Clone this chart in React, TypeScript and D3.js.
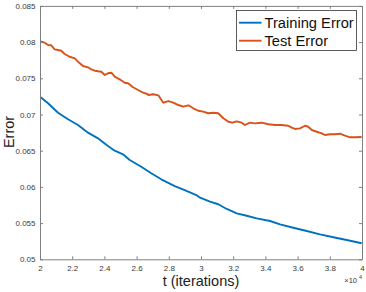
import React, { useRef, useEffect } from 'react';
import { select, scaleLinear, line, axisBottom, axisLeft, axisTop, axisRight } from 'd3';

const trainIters = [20040, 20500, 21120, 21740, 22360, 22980, 23600, 24220, 24640, 25160, 25570, 26290, 26910, 27530, 28370, 28990, 29710, 29940, 30560, 31070, 31600, 32220, 32840, 33460, 34290, 34910, 35730, 36570, 37390, 38220, 39050, 39980];
const trainErr = [0.07238, 0.07155, 0.07025, 0.06934, 0.06855, 0.06749, 0.06671, 0.06565, 0.065, 0.0645, 0.06372, 0.06279, 0.06188, 0.06105, 0.06012, 0.05957, 0.05888, 0.05851, 0.05796, 0.0576, 0.05695, 0.05635, 0.05602, 0.05566, 0.05529, 0.05483, 0.05436, 0.05391, 0.05345, 0.05304, 0.05267, 0.05221];

const testIters = [20040, 20290, 20500, 20700, 20910, 21120, 21320, 21530, 21840, 22160, 22360, 22670, 22980, 23190, 23400, 23600, 23810, 24020, 24220, 24430, 24640, 24950, 25260, 25470, 25780, 26090, 26400, 26660, 26730, 27040, 27350, 27660, 27970, 28280, 28590, 28900, 29210, 29520, 29830, 30140, 30450, 30760, 31070, 31390, 31700, 31940, 32220, 32530, 32730, 33040, 33350, 33770, 34180, 34600, 35010, 35420, 35630, 35840, 36150, 36460, 36660, 36880, 37190, 37500, 37700, 38010, 38320, 38630, 38940, 39260, 39570, 39980];
const testErr = [0.0801, 0.07992, 0.0796, 0.07956, 0.079, 0.07891, 0.07881, 0.07836, 0.07798, 0.07776, 0.07729, 0.0767, 0.07652, 0.07624, 0.07605, 0.07597, 0.07591, 0.07546, 0.07569, 0.07577, 0.07522, 0.07486, 0.07439, 0.07431, 0.07376, 0.07338, 0.07301, 0.07283, 0.07269, 0.07279, 0.07265, 0.07163, 0.07186, 0.07163, 0.07131, 0.07108, 0.07127, 0.07086, 0.07052, 0.07039, 0.07017, 0.07025, 0.07017, 0.06948, 0.069, 0.06887, 0.06906, 0.06887, 0.06855, 0.06887, 0.06878, 0.06887, 0.06865, 0.06855, 0.06855, 0.06845, 0.06818, 0.068, 0.06809, 0.06845, 0.06831, 0.06786, 0.06762, 0.0674, 0.06717, 0.06727, 0.06727, 0.06735, 0.06707, 0.06685, 0.06685, 0.06689];

const xTicks = [20000, 22000, 24000, 26000, 28000, 30000, 32000, 34000, 36000, 38000, 40000];
const yTicks = [0.05, 0.055, 0.06, 0.065, 0.07, 0.075, 0.08, 0.085];
const seriesNames = ['Training Error', 'Test Error'];
const seriesColors = ['#0072BD', '#D95319'];

const W = 366;
const H = 292;
const FONT = '"Liberation Sans", Arial, Helvetica, sans-serif';

export default function App() {
  const gRef = useRef<SVGGElement>(null);

  const x = scaleLinear().domain([20000, 40000]).range([40, 362]);
  const y = scaleLinear().domain([0.05, 0.085]).range([259.3, 5.9]);

  const mk = (its: number[], errs: number[]) =>
    line<number>()
      .x((d) => x(d))
      .y((d, i) => y(errs[i]))(its) || '';

  useEffect(() => {
    const g = select(gRef.current);
    g.selectAll('*').remove();
    const fmtX = (d: any) => String(+d / 10000);
    const fmtY = (d: any) => String(+(+d).toFixed(3));

    g.append('g')
      .attr('transform', `translate(0,${y(0.05)})`)
      .call(axisBottom(x).tickValues(xTicks).tickSizeInner(-3).tickSizeOuter(0).tickPadding(6).tickFormat(fmtX));
    g.append('g')
      .attr('transform', `translate(${x(20000)},0)`)
      .call(axisLeft(y).tickValues(yTicks).tickSizeInner(-3).tickSizeOuter(0).tickPadding(4.5).tickFormat(fmtY));
    g.append('g')
      .attr('transform', `translate(0,${y(0.085)})`)
      .call(axisTop(x).tickValues(xTicks).tickSizeInner(-3).tickSizeOuter(0).tickFormat(() => ''));
    g.append('g')
      .attr('transform', `translate(${x(40000)},0)`)
      .call(axisRight(y).tickValues(yTicks).tickSizeInner(-3).tickSizeOuter(0).tickFormat(() => ''));

    g.selectAll('.domain, .tick line').attr('stroke', '#808080').attr('stroke-width', 1);
    g.selectAll('.tick text').attr('fill', '#3a3a3a').style('font-family', FONT).style('font-size', '8px');
  }, []);

  return (
    <svg width={W} height={H} style={{ position: 'absolute', left: 0, top: 0, background: '#fff' }}>
      <rect x={0} y={0} width={W} height={H} fill="#fff" />
      <path d={mk(trainIters, trainErr)} fill="none" stroke={seriesColors[0]} strokeWidth={1.9} strokeLinejoin="round" />
      <path d={mk(testIters, testErr)} fill="none" stroke={seriesColors[1]} strokeWidth={1.9} strokeLinejoin="round" />
      <g ref={gRef} />

      <text x={201} y={286} textAnchor="middle" fontFamily={FONT} fontSize={14.5} fill="#222">t (iterations)</text>
      <text transform={`translate(14,132) rotate(-90)`} textAnchor="middle" fontFamily={FONT} fontSize={14.5} fill="#222">Error</text>
      <text x={357} y={283} textAnchor="end" fontFamily={FONT} fontSize={7.5} fill="#3a3a3a">×10</text>
      <text x={362} y={279} textAnchor="end" fontFamily={FONT} fontSize={5.5} fill="#3a3a3a">4</text>

      <g>
        <rect x={236.5} y={10.5} width={120} height={40} fill="#fff" stroke="#333" strokeWidth={0.8} />
        {seriesNames.map((name, i) => (
          <g key={name} transform={`translate(0,${22.7 + i * 18})`}>
            <line x1={239} x2={261.5} y1={0} y2={0} stroke={seriesColors[i]} strokeWidth={1.9} />
            <text x={264.5} y={5} fontFamily={FONT} fontSize={14.7} fill="#111">{name}</text>
          </g>
        ))}
      </g>
    </svg>
  );
}
